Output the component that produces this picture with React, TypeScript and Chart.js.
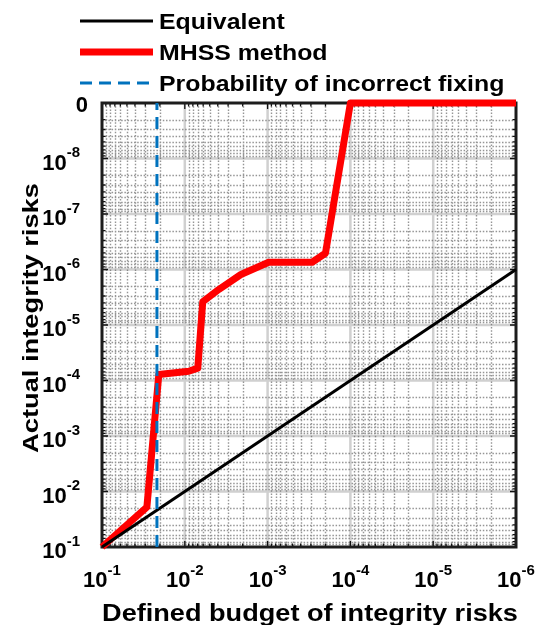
import React, { useEffect, useRef } from 'react';
import { Chart, registerables } from 'chart.js';

Chart.register(...registerables);

// ---------------- data ----------------
const seriesLabels = ['Equivalent', 'MHSS method', 'Probability of incorrect fixing'];

const equivalentX = [1e-1, 1e-6];
const equivalentY = [1e-1, 1e-6];

const mhssX = [1e-1, 0.0287, 0.0206, 0.00895, 0.00697, 0.00607, 0.0039, 0.0021, 0.00097, 0.00029, 0.0002, 1e-4, 1e-6];
const mhssY = [1e-1, 0.0191, 7.8e-5, 6.8e-5, 6.0e-5, 3.8e-6, 2.3e-6, 1.23e-6, 7.4e-7, 7.4e-7, 5.1e-7, 1e-9, 1e-9];

const fixingX = [0.0217, 0.0217];
const fixingY = [1e-1, 1e-9];

const xTickValues = [1e-1, 1e-2, 1e-3, 1e-4, 1e-5, 1e-6];
const xTickExponents = ['-1', '-2', '-3', '-4', '-5', '-6'];
const yTickValues = [1e-1, 1e-2, 1e-3, 1e-4, 1e-5, 1e-6, 1e-7, 1e-8];
const yTickExponents = ['-1', '-2', '-3', '-4', '-5', '-6', '-7', '-8'];
const yZeroValue = 1e-9;
const yZeroLabel = '0';
const tickBase = '10';

const xTitle = 'Defined budget of integrity risks';
const yTitle = 'Actual integrity risks';

const X_MIN = 1e-6, X_MAX = 1e-1;
const Y_MIN = 1e-9, Y_MAX = 1e-1;

// ---------------- helpers ----------------
const FONT = "'Liberation Sans', Arial, Helvetica, sans-serif";

function toPoints(xs: number[], ys: number[]) {
  return xs.map((x, i) => ({ x, y: ys[i] }));
}

function sText(ctx: CanvasRenderingContext2D, text: string, x: number, y: number, size: number, align: 'left' | 'center' | 'right', stretch: number) {
  ctx.save();
  ctx.font = `bold ${size}px ${FONT}`;
  ctx.textBaseline = 'alphabetic';
  const w = ctx.measureText(text).width * stretch;
  let left = x;
  if (align === 'center') left = x - w / 2;
  else if (align === 'right') left = x - w;
  ctx.translate(left, y);
  ctx.scale(stretch, 1);
  ctx.textAlign = 'left';
  ctx.fillStyle = '#000';
  ctx.fillText(text, 0, 0);
  ctx.restore();
  return w;
}

function measure(ctx: CanvasRenderingContext2D, text: string, size: number) {
  ctx.save();
  ctx.font = `bold ${size}px ${FONT}`;
  const w = ctx.measureText(text).width;
  ctx.restore();
  return w;
}

const BASE_SIZE = 22;
const EXP_SIZE = 15;

function decadeRange(minV: number, maxV: number) {
  const out: number[] = [];
  for (let e = Math.round(Math.log10(minV)); e < Math.round(Math.log10(maxV)); e++) out.push(e);
  return out;
}

const decorPlugin = {
  id: 'decor',
  beforeDatasetsDraw(chart: any) {
    const ctx: CanvasRenderingContext2D = chart.ctx;
    const a = chart.chartArea;
    const xs = chart.scales.x;
    const ys = chart.scales.y;
    const xDec = decadeRange(X_MIN, X_MAX);
    const yDec = decadeRange(Y_MIN, Y_MAX);
    ctx.save();
    // major grid
    ctx.strokeStyle = '#d0d0d0';
    ctx.lineWidth = 2.5;
    ctx.setLineDash([]);
    ctx.beginPath();
    xDec.forEach((e) => {
      if (e === xDec[0]) return;
      const px = xs.getPixelForValue(Math.pow(10, e));
      ctx.moveTo(px, a.top); ctx.lineTo(px, a.bottom);
    });
    yDec.forEach((e) => {
      if (e === yDec[0]) return;
      const py = ys.getPixelForValue(Math.pow(10, e));
      ctx.moveTo(a.left, py); ctx.lineTo(a.right, py);
    });
    ctx.stroke();
    // minor grid
    ctx.strokeStyle = 'rgba(85,85,85,0.62)';
    ctx.lineWidth = 1.4;
    ctx.setLineDash([1.5, 1.7]);
    ctx.beginPath();
    xDec.forEach((e) => {
      for (let m = 2; m <= 9; m++) {
        const px = Math.round(xs.getPixelForValue(m * Math.pow(10, e))) + 0.5;
        ctx.moveTo(px, a.top); ctx.lineTo(px, a.bottom);
      }
    });
    yDec.forEach((e) => {
      for (let m = 2; m <= 9; m++) {
        const py = Math.round(ys.getPixelForValue(m * Math.pow(10, e))) + 0.5;
        ctx.moveTo(a.left, py); ctx.lineTo(a.right, py);
      }
    });
    ctx.stroke();
    // ticks (inward, on all four sides)
    ctx.setLineDash([]);
    ctx.strokeStyle = '#111';
    ctx.lineWidth = 1.3;
    ctx.beginPath();
    xDec.forEach((e) => {
      for (let m = 1; m <= 9; m++) {
        const px = xs.getPixelForValue(m * Math.pow(10, e));
        const L = m === 1 ? 6 : 3.5;
        ctx.moveTo(px, a.bottom); ctx.lineTo(px, a.bottom - L);
        ctx.moveTo(px, a.top); ctx.lineTo(px, a.top + L);
      }
    });
    yDec.forEach((e) => {
      for (let m = 1; m <= 9; m++) {
        const py = ys.getPixelForValue(m * Math.pow(10, e));
        const L = m === 1 ? 6 : 3.5;
        ctx.moveTo(a.left, py); ctx.lineTo(a.left + L, py);
        ctx.moveTo(a.right, py); ctx.lineTo(a.right - L, py);
      }
    });
    ctx.stroke();
    // box
    ctx.strokeStyle = '#1c1c1c';
    ctx.lineWidth = 3;
    ctx.strokeRect(a.left, a.top, a.right - a.left, a.bottom - a.top);
    ctx.restore();
  },
  afterDraw(chart: any) {
    const ctx: CanvasRenderingContext2D = chart.ctx;
    const a = chart.chartArea;
    const xs = chart.scales.x;
    const ys = chart.scales.y;
    // x tick labels
    xTickValues.forEach((v, i) => {
      const px = xs.getPixelForValue(v);
      const wb = measure(ctx, tickBase, BASE_SIZE);
      const we = measure(ctx, xTickExponents[i], EXP_SIZE);
      const left = px - (wb + we) / 2;
      sText(ctx, tickBase, left, a.bottom + 40, BASE_SIZE, 'left', 1);
      sText(ctx, xTickExponents[i], left + wb, a.bottom + 28, EXP_SIZE, 'left', 1);
    });
    // y tick labels
    const rightEdge = a.left - 22;
    yTickValues.forEach((v, i) => {
      const py = ys.getPixelForValue(v);
      const we = measure(ctx, yTickExponents[i], EXP_SIZE);
      sText(ctx, yTickExponents[i], rightEdge, py - 1.5, EXP_SIZE, 'right', 1);
      sText(ctx, tickBase, rightEdge - we, py + 11, BASE_SIZE, 'right', 1);
    });
    const pz = ys.getPixelForValue(yZeroValue);
    sText(ctx, yZeroLabel, a.left - 14, pz + 8.5, BASE_SIZE, 'right', 1);
    // axis titles
    sText(ctx, xTitle, 310, 621, 24, 'center', 1.13);
    ctx.save();
    ctx.translate(38, 318);
    ctx.rotate(-Math.PI / 2);
    sText(ctx, yTitle, 0, 0, 22, 'center', 1.24);
    ctx.restore();
    // legend
    const ds = chart.data.datasets;
    const rows = [21, 52, 83];
    ds.forEach((d: any, i: number) => {
      const y = rows[i];
      ctx.save();
      ctx.strokeStyle = d.borderColor;
      ctx.lineWidth = d.borderWidth;
      ctx.setLineDash(d.borderDash || []);
      ctx.beginPath();
      ctx.moveTo(80, y);
      ctx.lineTo(d.borderDash ? 150 : 153, y);
      ctx.stroke();
      ctx.restore();
      sText(ctx, d.label, 159, y + 8, 22, 'left', 1.13);
    });
  },
};

export default function App() {
  const canvasRef = useRef<HTMLCanvasElement | null>(null);

  useEffect(() => {
    if (!canvasRef.current) return;
    const chart = new Chart(canvasRef.current, {
      type: 'scatter',
      data: {
        datasets: [
          {
            label: seriesLabels[0],
            data: toPoints(equivalentX, equivalentY),
            showLine: true,
            borderColor: '#000000',
            backgroundColor: '#000000',
            borderWidth: 3,
            pointRadius: 0,
            clip: false as any,
            order: 1,
          },
          {
            label: seriesLabels[1],
            data: toPoints(mhssX, mhssY),
            showLine: true,
            borderColor: '#ff0000',
            backgroundColor: '#ff0000',
            borderWidth: 7,
            borderJoinStyle: 'round',
            pointRadius: 0,
            clip: false as any,
            order: 2,
          },
          {
            label: seriesLabels[2],
            data: toPoints(fixingX, fixingY),
            showLine: true,
            borderColor: '#0072BD',
            backgroundColor: '#0072BD',
            borderWidth: 3,
            borderDash: [12, 7],
            pointRadius: 0,
            order: 0,
          },
        ],
      },
      options: {
        animation: false,
        responsive: true,
        maintainAspectRatio: false,
        devicePixelRatio: 1,
        layout: { padding: { left: 102, top: 103, right: 25, bottom: 78 } },
        plugins: { legend: { display: false }, tooltip: { enabled: false } },
        scales: {
          x: { type: 'logarithmic', min: X_MIN, max: X_MAX, reverse: true, display: false },
          y: { type: 'logarithmic', min: Y_MIN, max: Y_MAX, reverse: true, display: false },
        },
      },
      plugins: [decorPlugin],
    } as any);
    return () => chart.destroy();
  }, []);

  return (
    <div style={{ position: 'absolute', left: 0, top: 0, width: 541, height: 625, background: '#fff' }}>
      <canvas ref={canvasRef} />
    </div>
  );
}
